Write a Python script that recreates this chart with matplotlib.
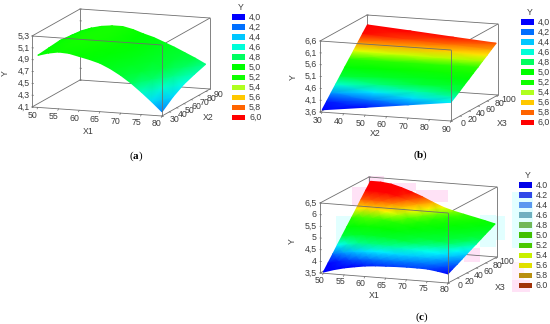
import matplotlib
matplotlib.use("Agg")
import matplotlib.pyplot as plt
from matplotlib.colors import LinearSegmentedColormap
from matplotlib.patches import Rectangle
import numpy as np

plt.rcParams['font.family'] = ['Liberation Sans', 'DejaVu Sans']
plt.rcParams['mathtext.fontset'] = 'custom'
plt.rcParams['mathtext.bf'] = 'Liberation Serif:bold'

color_line = "#6e6e6e"
color_text = "#3c3c3c"
text_size = 6.3

# legend swatches
colors_bright = ["#0000ff", "#0070ff", "#00c8ff", "#00ffd8", "#00ff60", "#00ff00",
                 "#10ff00", "#b0ff20", "#ffc800", "#ff6400", "#ff0000"]
colors_muted = ["#0000e8", "#3048e8", "#5c98f0", "#70b0c0", "#70b858", "#40c000",
                "#48c800", "#c8f000", "#e0e000", "#b89010", "#a03008"]
labels_comma = ["4,0", "4,2", "4,4", "4,6", "4,8", "5,0", "5,2", "5,4", "5,6", "5,8", "6,0"]
labels_dot = ["4.0", "4.2", "4.4", "4.6", "4.8", "5.0", "5.2", "5.4", "5.6", "5.8", "6.0"]

# colours seen on the surfaces, by value of Y
surface_values = [3.9, 4.15, 4.4, 4.65, 5.0, 5.27, 5.5, 5.75, 6.0]
surface_colors = ["#0000ff", "#0078ff", "#00ffff", "#00ff40", "#00ff00", "#30ff00",
                  "#ffff00", "#ff8000", "#ff0000"]

# (a) Y over X1 (columns) and X2 (rows)
a_x1 = [50, 52.5, 55, 57.5, 60, 62.5, 65, 67.5, 70, 72.5, 75, 77.5, 80]
a_x2 = [30, 45, 60, 75, 90]
a_y = [
    [4.98, 5.03, 5.06, 5.05, 5.01, 4.97, 4.92, 4.84, 4.74, 4.62, 4.48, 4.33, 4.17],
    [5.00, 5.06, 5.09, 5.09, 5.07, 5.03, 4.98, 4.91, 4.82, 4.72, 4.60, 4.47, 4.32],
    [5.02, 5.08, 5.11, 5.12, 5.10, 5.07, 5.02, 4.96, 4.88, 4.79, 4.68, 4.56, 4.43],
    [5.00, 5.07, 5.10, 5.12, 5.11, 5.07, 5.01, 4.96, 4.89, 4.81, 4.72, 4.61, 4.50],
    [4.98, 5.04, 5.08, 5.10, 5.10, 5.06, 5.00, 4.95, 4.88, 4.81, 4.73, 4.65, 4.56],
]

# (b) Y over X2 (columns) and X3 (rows)
b_x2 = [30, 50, 70, 90]
b_x3 = [0, 10, 20, 30, 40, 50, 60, 70, 80, 90, 100]
b_y = [
    [3.70, 3.93, 4.16, 4.39],
    [3.95, 4.14, 4.34, 4.53],
    [4.21, 4.36, 4.52, 4.67],
    [4.46, 4.58, 4.70, 4.82],
    [4.71, 4.79, 4.88, 4.96],
    [4.97, 5.02, 5.06, 5.11],
    [5.22, 5.23, 5.24, 5.25],
    [5.47, 5.45, 5.42, 5.40],
    [5.73, 5.67, 5.60, 5.54],
    [5.98, 5.88, 5.79, 5.69],
    [6.23, 6.10, 5.96, 5.83],
]

# (c) Y over X1 (columns) and X3 (rows)
c_x1 = [50, 52.5, 55, 57.5, 60, 62.5, 65, 67.5, 70, 72.5, 75, 77.5, 80]
c_x3 = [0, 10, 20, 30, 40, 50, 60, 70, 80, 90, 100]
c_y = [
    [3.55, 3.69, 3.80, 3.88, 3.95, 3.99, 4.01, 4.03, 4.04, 4.04, 4.03, 3.97, 3.89],
    [3.83, 3.96, 4.05, 4.11, 4.16, 4.18, 4.18, 4.18, 4.17, 4.16, 4.14, 4.08, 4.00],
    [4.11, 4.23, 4.30, 4.34, 4.37, 4.37, 4.34, 4.32, 4.31, 4.29, 4.26, 4.19, 4.10],
    [4.40, 4.49, 4.56, 4.58, 4.58, 4.56, 4.51, 4.47, 4.44, 4.41, 4.37, 4.30, 4.21],
    [4.68, 4.76, 4.81, 4.81, 4.79, 4.75, 4.68, 4.62, 4.57, 4.53, 4.49, 4.41, 4.32],
    [4.96, 5.03, 5.06, 5.04, 5.00, 4.94, 4.85, 4.77, 4.71, 4.66, 4.60, 4.52, 4.43],
    [5.24, 5.30, 5.31, 5.27, 5.21, 5.12, 5.01, 4.91, 4.84, 4.78, 4.71, 4.63, 4.53],
    [5.52, 5.57, 5.56, 5.50, 5.42, 5.31, 5.18, 5.06, 4.97, 4.90, 4.83, 4.74, 4.64],
    [5.81, 5.83, 5.82, 5.74, 5.63, 5.50, 5.35, 5.21, 5.10, 5.02, 4.94, 4.85, 4.75],
    [6.09, 6.10, 6.07, 5.97, 5.84, 5.69, 5.51, 5.35, 5.24, 5.15, 5.06, 4.96, 4.85],
    [6.37, 6.37, 6.32, 6.20, 6.05, 5.88, 5.68, 5.50, 5.37, 5.27, 5.17, 5.07, 4.96],
]

a_xticks = [50, 55, 60, 65, 70, 75, 80]
a_yticks = [30, 40, 50, 60, 70, 80, 90]
a_zticks = [4.1, 4.3, 4.5, 4.7, 4.9, 5.1, 5.3]
a_zlabels = ["4,1", "4,3", "4,5", "4,7", "4,9", "5,1", "5,3"]
b_xticks = [30, 40, 50, 60, 70, 80, 90]
b_yticks = [0, 20, 40, 60, 80, 100]
b_zticks = [3.6, 4.1, 4.6, 5.1, 5.6, 6.1, 6.6]
b_zlabels = ["3,6", "4,1", "4,6", "5,1", "5,6", "6,1", "6,6"]
c_xticks = [50, 55, 60, 65, 70, 75, 80]
c_yticks = [0, 20, 40, 60, 80, 100]
c_zticks = [3.5, 4.0, 4.5, 5.0, 5.5, 6.0, 6.5]
c_zlabels = ["3,5", "4", "4,5", "5", "5,5", "6", "6,5"]

vmin, vmax = surface_values[0], surface_values[-1]
cmap = LinearSegmentedColormap.from_list(
    "surface", [((v - vmin) / (vmax - vmin), c) for v, c in zip(surface_values, surface_colors)])

fig = plt.figure(figsize=(5.5, 3.24), dpi=100)
ax = fig.add_axes([0, 0, 1, 1])
ax.set_xlim(0, 550)
ax.set_ylim(324, 0)
ax.axis("off")


def makeProjection(origin, ex, ey, ez, xlim, ylim, zlim):
    # oblique view of the box: data -> figure pixels
    def project(x, y, z):
        u = (np.asarray(x, dtype=float) - xlim[0]) / (xlim[1] - xlim[0])
        v = (np.asarray(y, dtype=float) - ylim[0]) / (ylim[1] - ylim[0])
        w = (np.asarray(z, dtype=float) - zlim[0]) / (zlim[1] - zlim[0])
        return (origin[0] + u * ex[0] + v * ey[0] + w * ez[0],
                origin[1] + u * ex[1] + v * ey[1] + w * ez[1])
    return project


def edge(project, p, q, zorder):
    xs, ys = project([p[0], q[0]], [p[1], q[1]], [p[2], q[2]])
    ax.plot(xs, ys, color=color_line, lw=0.6, zorder=zorder, solid_capstyle="round")


def drawBox(project, xlim, ylim, zlim):
    x0, x1 = xlim
    y0, y1 = ylim
    z0, z1 = zlim
    # behind the surface
    edge(project, (x0, y1, z0), (x1, y1, z0), 1)
    edge(project, (x0, y0, z0), (x0, y1, z0), 1)
    edge(project, (x0, y1, z0), (x0, y1, z1), 1)
    edge(project, (x1, y1, z0), (x1, y1, z1), 1)
    edge(project, (x0, y1, z1), (x1, y1, z1), 1)
    edge(project, (x0, y0, z1), (x0, y1, z1), 1)
    edge(project, (x1, y0, z1), (x1, y1, z1), 1)
    edge(project, (x1, y0, z0), (x1, y1, z0), 1)
    # in front of it
    edge(project, (x0, y0, z0), (x1, y0, z0), 3)
    edge(project, (x0, y0, z0), (x0, y0, z1), 3)
    edge(project, (x1, y0, z0), (x1, y0, z1), 3)
    edge(project, (x0, y0, z1), (x1, y0, z1), 3)


def drawTicks(project, xlim, ylim, zlim, xticks, yticks, zticks, zlabels,
              xoff, yoff, zoff):
    for t in xticks:
        px, py = project(t, ylim[0], zlim[0])
        ax.plot([px, px - 0.7], [py, py + 1.5], color=color_line, lw=0.5, zorder=3)
        ax.text(px + xoff[0], py + xoff[1], str(t), ha="center", va="center",
                fontsize=text_size, color=color_text)
    for t in yticks:
        px, py = project(xlim[1], t, zlim[0])
        ax.plot([px, px + 1.5], [py, py + 0.3], color=color_line, lw=0.5, zorder=3)
        ax.text(px + yoff[0], py + yoff[1], str(t), ha="center", va="center",
                fontsize=text_size, color=color_text)
    for t, lab in zip(zticks, zlabels):
        px, py = project(xlim[0], ylim[0], t)
        ax.plot([px, px + 1.5], [py, py + 0.1], color=color_line, lw=0.5, zorder=3)
        ax.text(px + zoff, py, lab, ha="right", va="center",
                fontsize=text_size, color=color_text)
        # the same ticks on the back wall
        bx, by = project(xlim[0], ylim[1], t)
        ax.plot([bx, bx + 1.5], [by, by + 0.1], color=color_line, lw=0.5, zorder=1)


def drawSurface(project, xs, ys, zs):
    X, Y = np.meshgrid(xs, ys)
    Z = np.array(zs)
    px, py = project(X, Y, Z)
    ax.pcolormesh(px, py, Z, shading="gouraud", cmap=cmap, vmin=vmin, vmax=vmax, zorder=2)


def drawLegend(swatch_x, first_y, colors, labels):
    ax.text(swatch_x + 9, first_y - 9.7, "Y", ha="center", va="center",
            fontsize=text_size, color=color_text)
    for i, (c, lab) in enumerate(zip(colors, labels)):
        row = first_y + i * 10.05
        ax.add_patch(Rectangle((swatch_x, row - 2.8), 12.5, 5.6, facecolor=c, edgecolor="none",
                               zorder=3))
        ax.text(swatch_x + 17, row, lab, ha="left", va="center", fontsize=text_size,
                color=color_text)


def axisTitle(x, y, s, rotation=0):
    ax.text(x, y, s, ha="center", va="center", rotation=rotation, fontsize=text_size,
            color=color_text)


# pale blocks the compression left around panel (c)
cyan_blocks = [(336, 216, 16, 30), (352, 232, 16, 14), (480, 215, 16, 32),
               (496, 216, 9, 24), (512, 192, 21, 56)]
pink_blocks = [(352, 187, 16, 19), (368, 176, 16, 8), (384, 183, 32, 8),
               (416, 190, 32, 12), (464, 248, 16, 14), (512, 280, 18, 12)]
for bx, by, bw, bh in cyan_blocks:
    ax.add_patch(Rectangle((bx, by), bw, bh, facecolor="#e2ffff", edgecolor="none", zorder=0))
for bx, by, bw, bh in pink_blocks:
    ax.add_patch(Rectangle((bx, by), bw, bh, facecolor="#ffe2f6", edgecolor="none", zorder=0))
ax.add_patch(Rectangle((512, 262), 12, 18, facecolor="#fff2fb", edgecolor="none", zorder=0))

# panel (a)
xlim, ylim, zlim = (48.6, 80), (30, 96), (4.1, 5.3)
project = makeProjection((32, 107), (130, 9), (48, -27), (0, -71), xlim, ylim, zlim)
drawBox(project, xlim, ylim, zlim)
drawTicks(project, xlim, ylim, zlim, a_xticks, a_yticks, a_zticks, a_zlabels,
          (-5, 8), (13, 3), -2)
drawSurface(project, a_x1, a_x2, a_y)
drawLegend(232, 17, colors_bright, labels_comma)
axisTitle(88, 131, "X1")
axisTitle(208, 118, "X2")
axisTitle(5, 73, "Y", 90)

# panel (b)
xlim, ylim, zlim = (29, 90), (0, 104), (3.6, 6.6)
project = makeProjection((320, 112), (131, 9), (47, -26), (0, -71), xlim, ylim, zlim)
drawBox(project, xlim, ylim, zlim)
drawTicks(project, xlim, ylim, zlim, b_xticks, b_yticks, b_zticks, b_zlabels,
          (-5, 8), (12, 3), -3)
drawSurface(project, b_x2, b_x3, b_y)
drawLegend(521, 22, colors_bright, labels_comma)
axisTitle(375, 134, "X2")
axisTitle(502, 124, "X3")
axisTitle(293, 77, "Y", 90)

# panel (c)
xlim, ylim, zlim = (49.2, 80), (0, 104), (3.5, 6.5)
project = makeProjection((320, 273), (128, 10), (49, -26), (0, -70), xlim, ylim, zlim)
drawBox(project, xlim, ylim, zlim)
drawTicks(project, xlim, ylim, zlim, c_xticks, c_yticks, c_zticks, c_zlabels,
          (-4, 7), (12, 3), -3)
drawSurface(project, c_x1, c_x3, c_y)
drawLegend(519, 185, colors_muted, labels_dot)
axisTitle(374, 296, "X1")
axisTitle(500, 287, "X3")
axisTitle(292, 241, "Y", 90)

for px, py, name in [(136, 156, "a"), (421, 155, "b"), (422, 317, "c")]:
    ax.text(px, py, r"($\mathbf{%s}$)" % name, ha="center", va="center", fontsize=8,
            family="Liberation Serif", color="black")

fig.savefig("out.png", dpi=100)
